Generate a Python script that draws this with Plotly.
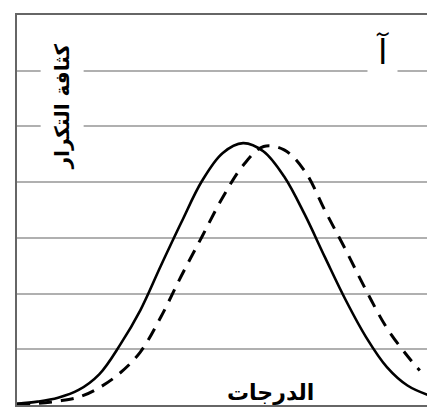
import plotly.graph_objects as go

score_solid = [0, 5, 10, 15, 20, 25, 30, 35, 40, 45, 50, 55, 60, 65, 70, 75, 80, 85, 90, 95, 100]
density_solid = [0.02, 0.06, 0.13, 0.27, 0.55, 1.07, 1.70, 2.50, 3.28, 4.02, 4.52, 4.70, 4.55, 4.10,
                 3.42, 2.64, 1.88, 1.21, 0.68, 0.35, 0.18]

score_dashed = [0, 5, 10, 15, 20, 25, 30, 35, 40, 45, 50, 55, 60, 65, 70, 75, 80, 85, 90, 95, 98]
density_dashed = [0.02, 0.03, 0.07, 0.14, 0.31, 0.57, 0.95, 1.58, 2.32, 3.02, 3.72, 4.30, 4.64, 4.58,
                  4.20, 3.48, 2.78, 2.05, 1.38, 0.88, 0.62]

y_title = "كثافة التكرار"
x_title = "الدرجات"
panel_label = "آ"

fig = go.Figure()
fig.add_trace(go.Scatter(
    x=score_solid, y=density_solid, mode="lines",
    line=dict(color="black", width=2.6, shape="spline", smoothing=1.0),
    showlegend=False, hoverinfo="skip"))
fig.add_trace(go.Scatter(
    x=score_dashed, y=density_dashed, mode="lines",
    line=dict(color="black", width=3, shape="spline", smoothing=1.0, dash="13px,9px"),
    showlegend=False, hoverinfo="skip"))

font_ar = "DejaVu Sans, Arial, sans-serif"

fig.add_annotation(
    x=0.109, y=0.765, xref="paper", yref="paper", text="<b>" + y_title + "</b>",
    xanchor="center", yanchor="middle",
    textangle=-90, showarrow=False, font=dict(family=font_ar, size=20, color="black"),
    bgcolor="white", borderpad=9)
fig.add_annotation(
    x=0.89, y=0.906, xref="paper", yref="paper", text=panel_label,
    xanchor="center", yanchor="middle",
    showarrow=False, font=dict(family=font_ar, size=34, color="black"),
    bgcolor="white", borderpad=8)
fig.add_annotation(
    x=0.618, y=0.031, xref="paper", yref="paper", text="<b>" + x_title + "</b>",
    xanchor="center", yanchor="middle",
    showarrow=False, font=dict(family=font_ar, size=22, color="black"))

fig.update_xaxes(range=[0, 100], showgrid=False, zeroline=False, showticklabels=False,
                 ticks="", showline=True, linecolor="#666", linewidth=2, mirror=True)
fig.update_yaxes(range=[0, 7], dtick=1, showgrid=True, gridcolor="#b0b0b0", gridwidth=1.5,
                 zeroline=False, showticklabels=False, ticks="",
                 showline=True, linecolor="#666", linewidth=2, mirror=True)

# page body has an 8px margin; shrink the figure so the plot box lands where the reference has it
fig.update_layout(
    width=427, height=402,
    margin=dict(l=9, r=7, t=5, b=5),
    plot_bgcolor="white", paper_bgcolor="white")

fig.write_html("out.html")
